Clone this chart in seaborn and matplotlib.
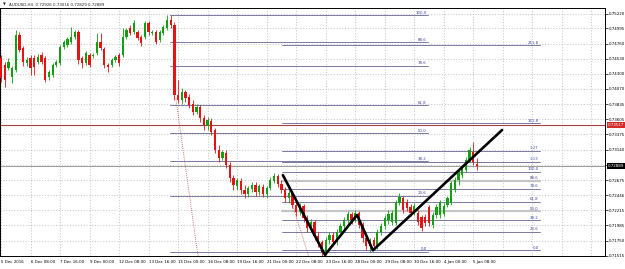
import numpy as np
import pandas as pd
import matplotlib
matplotlib.use("Agg")
import matplotlib.pyplot as plt
import matplotlib.transforms as mtransforms
import seaborn as sns

# ---------------- data ----------------
opens = [0.7454, 0.7443, 0.7439, 0.7425, 0.7436, 0.7489, 0.7470, 0.7447, 0.7454, 0.7454,
         0.7448, 0.7459, 0.7454, 0.7425, 0.7428, 0.7443, 0.7447, 0.7471, 0.7474, 0.7479,
         0.7486, 0.7494, 0.7454, 0.7447, 0.7459, 0.7457, 0.7462, 0.7479, 0.7468, 0.7443,
         0.7443, 0.7451, 0.7459, 0.7459, 0.7486, 0.7500, 0.7494, 0.7494, 0.7486, 0.7486,
         0.7508, 0.7492, 0.7494, 0.7482, 0.7492, 0.7500, 0.7512, 0.7505, 0.7398, 0.7390,
         0.7402, 0.7394, 0.7384, 0.7372, 0.7379, 0.7362, 0.7350, 0.7358, 0.7344, 0.7313,
         0.7301, 0.7309, 0.7291, 0.7271, 0.7258, 0.7266, 0.7252, 0.7246, 0.7254, 0.7260,
         0.7249, 0.7257, 0.7246, 0.7255, 0.7266, 0.7274, 0.7261, 0.7252, 0.7240, 0.7248,
         0.7229, 0.7219, 0.7228, 0.7210, 0.7194, 0.7203, 0.7182, 0.7173, 0.7157, 0.7176,
         0.7183, 0.7173, 0.7188, 0.7197, 0.7206, 0.7216, 0.7206, 0.7217, 0.7199, 0.7179,
         0.7167, 0.7176, 0.7167, 0.7188, 0.7197, 0.7206, 0.7203, 0.7202, 0.7232, 0.7240,
         0.7234, 0.7226, 0.7219, 0.7217, 0.7211, 0.7211, 0.7226, 0.7199, 0.7214, 0.7214,
         0.7216, 0.7229, 0.7232, 0.7252, 0.7268, 0.7275, 0.7283, 0.7298, 0.7310, 0.72926]
highs = [0.7459, 0.7448, 0.7454, 0.7442, 0.7497, 0.7494, 0.7473, 0.7456, 0.7459, 0.7459,
         0.7460, 0.7463, 0.7457, 0.7436, 0.7447, 0.7451, 0.7474, 0.7482, 0.7486, 0.7502,
         0.7497, 0.7497, 0.7457, 0.7465, 0.7462, 0.7462, 0.7492, 0.7492, 0.7471, 0.7447,
         0.7454, 0.7459, 0.7462, 0.7500, 0.7500, 0.7505, 0.7512, 0.7497, 0.7489, 0.7511,
         0.7511, 0.7497, 0.7497, 0.7497, 0.7505, 0.7520, 0.7520, 0.7509, 0.7421, 0.7408,
         0.7405, 0.7399, 0.7390, 0.7384, 0.7382, 0.7367, 0.7364, 0.7362, 0.7347, 0.7321,
         0.7313, 0.7313, 0.7295, 0.7275, 0.7271, 0.7271, 0.7260, 0.7258, 0.7264, 0.7264,
         0.7261, 0.7261, 0.7258, 0.7272, 0.7278, 0.7277, 0.7268, 0.7257, 0.7252, 0.7251,
         0.7234, 0.7232, 0.7231, 0.7214, 0.7208, 0.7206, 0.7188, 0.7176, 0.7180, 0.7188,
         0.7188, 0.7193, 0.7202, 0.7211, 0.7220, 0.7219, 0.7222, 0.7220, 0.7203, 0.7183,
         0.7179, 0.7180, 0.7193, 0.7202, 0.7214, 0.7222, 0.7222, 0.7237, 0.7248, 0.7243,
         0.7239, 0.7231, 0.7232, 0.7222, 0.7214, 0.7216, 0.7229, 0.7219, 0.7231, 0.7237,
         0.7232, 0.7243, 0.7266, 0.7272, 0.7283, 0.7291, 0.7303, 0.7318, 0.7326, 0.73016]
lows = [0.7417, 0.7410, 0.7436, 0.7416, 0.7433, 0.7463, 0.7442, 0.7442, 0.7428, 0.7428,
        0.7445, 0.7445, 0.7417, 0.7421, 0.7425, 0.7440, 0.7443, 0.7468, 0.7471, 0.7476,
        0.7483, 0.7445, 0.7439, 0.7443, 0.7440, 0.7454, 0.7459, 0.7466, 0.7439, 0.7433,
        0.7440, 0.7448, 0.7442, 0.7456, 0.7483, 0.7489, 0.7491, 0.7482, 0.7473, 0.7483,
        0.7489, 0.7489, 0.7476, 0.7479, 0.7489, 0.7497, 0.7500, 0.7390, 0.7385, 0.7384,
        0.7387, 0.7378, 0.7367, 0.7369, 0.7356, 0.7344, 0.7344, 0.7336, 0.7309, 0.7295,
        0.7298, 0.7286, 0.7264, 0.7252, 0.7252, 0.7246, 0.7240, 0.7242, 0.7249, 0.7243,
        0.7245, 0.7242, 0.7240, 0.7252, 0.7263, 0.7257, 0.7248, 0.7234, 0.7232, 0.7225,
        0.7213, 0.7214, 0.7203, 0.7188, 0.7188, 0.7176, 0.7165, 0.7151, 0.7153, 0.7170,
        0.7168, 0.7168, 0.7183, 0.7193, 0.7202, 0.7200, 0.7203, 0.7194, 0.7173, 0.7160,
        0.7157, 0.7160, 0.7162, 0.7183, 0.7193, 0.7200, 0.7199, 0.7199, 0.7229, 0.7217,
        0.7220, 0.7213, 0.7214, 0.7199, 0.7190, 0.7197, 0.7197, 0.7194, 0.7210, 0.7210,
        0.7213, 0.7226, 0.7229, 0.7249, 0.7260, 0.7271, 0.7280, 0.7295, 0.7291, 0.72829]
closes = [0.7424, 0.7421, 0.7448, 0.7439, 0.7489, 0.7466, 0.7448, 0.7451, 0.7439, 0.7440,
          0.7456, 0.7448, 0.7421, 0.7433, 0.7443, 0.7448, 0.7471, 0.7479, 0.7483, 0.7486,
          0.7494, 0.7451, 0.7447, 0.7462, 0.7443, 0.7459, 0.7479, 0.7470, 0.7443, 0.7440,
          0.7451, 0.7456, 0.7447, 0.7486, 0.7497, 0.7492, 0.7508, 0.7485, 0.7477, 0.7508,
          0.7494, 0.7494, 0.7479, 0.7494, 0.7502, 0.7512, 0.7505, 0.7398, 0.7390, 0.7402,
          0.7393, 0.7382, 0.7372, 0.7379, 0.7362, 0.7352, 0.7359, 0.7341, 0.7313, 0.7301,
          0.7310, 0.7291, 0.7271, 0.7260, 0.7268, 0.7252, 0.7246, 0.7255, 0.7260, 0.7249,
          0.7258, 0.7246, 0.7255, 0.7268, 0.7274, 0.7261, 0.7252, 0.7240, 0.7248, 0.7229,
          0.7219, 0.7229, 0.7210, 0.7194, 0.7203, 0.7182, 0.7173, 0.7157, 0.7176, 0.7183,
          0.7173, 0.7188, 0.7197, 0.7206, 0.7216, 0.7206, 0.7217, 0.7199, 0.7179, 0.7167,
          0.7176, 0.7167, 0.7188, 0.7197, 0.7210, 0.7216, 0.7217, 0.7232, 0.7242, 0.7222,
          0.7225, 0.7217, 0.7228, 0.7203, 0.7194, 0.7202, 0.7202, 0.7214, 0.7226, 0.7234,
          0.7228, 0.7240, 0.7263, 0.7268, 0.7278, 0.7287, 0.7298, 0.7313, 0.7295, 0.72889]

x_labels = ["5 Dec 2016", "6 Dec 08:00", "7 Dec 16:00", "9 Dec 00:00", "12 Dec 08:00",
            "13 Dec 16:00", "15 Dec 00:00", "16 Dec 08:00", "19 Dec 16:00", "21 Dec 00:00",
            "22 Dec 08:00", "23 Dec 16:00", "28 Dec 00:00", "29 Dec 08:00", "30 Dec 16:00",
            "4 Jan 00:00", "5 Jan 08:00"]
y_ticks = [0.71515, 0.71750, 0.71985, 0.72215, 0.72446, 0.72675, 0.72905, 0.73140,
           0.73375, 0.73605, 0.73835, 0.74070, 0.74300, 0.74530, 0.74760, 0.74995, 0.75220]

# AB=CD zigzag (bar index, price)
zz_bars = [76.4, 87.8, 96.5, 100.8, 135.8]
zz_prices = [0.7275, 0.7153, 0.7214, 0.7160, 0.7344]

# Fibonacci retracement (from 15 Dec high)
fib1_levels = [0.0, 23.6, 38.2, 50.0, 61.8, 78.6, 88.6, 100.0]
fib1_labels = ["0.0", "23.6", "38.2", "50.0", "61.8", "78.6", "88.6", "100.0"]
fib1_low, fib1_high = 0.7158, 0.7520
fib1_start, fib1_end = 45.8, 115.7

# Fibonacci expansion (pattern)
fib2_levels = [0.0, 23.6, 38.2, 50.0, 61.8, 78.6, 88.6, 100.0, 113.0, 127.0, 161.8, 261.8]
fib2_labels = ["0.0", "23.6", "38.2", "50.0", "61.8", "78.6", "88.6", "100.0",
               "1.13", "1.27", "161.8", "261.8"]
fib2_low, fib2_high = 0.7160, 0.7280
fib2_start, fib2_end = 76.2, 146.0

# dotted trend lines of the fib tools
trend1_bars, trend1_prices = [47.4, 53.4], [0.7392, 0.7151]
trend2_bars, trend2_prices = [78.6, 83.4], [0.7237, 0.7151]

red_level = 0.73517
symbol_text = "AUDUSD,H4  0.72926 0.73016 0.72829 0.72889"

# ---------------- drawing ----------------
sns.set_style("white")
plt.rcParams["font.family"] = ["DejaVu Sans"]

fig = plt.figure(figsize=(6.25, 2.69), dpi=100)
ax = fig.add_axes([0.0, 1 - 256 / 269, 605 / 625, 248 / 269])

o = np.array(opens); h = np.array(highs); l = np.array(lows); c = np.array(closes)
idx = np.arange(len(c))
ax.set_xlim(-0.27, 163.7)
ax.set_ylim(0.71513, 0.75307)

# grid
xt = np.arange(0, 164, 8)
ax.set_xticks(xt)
ax.set_xticklabels(x_labels + [""] * (len(xt) - len(x_labels)), fontsize=2.9,
                   ha="left")
ax.set_yticks(y_ticks)
ax.set_yticklabels([("" if abs(v - 0.72905) < 1e-6 else f"{v:.5f}") for v in y_ticks],
                   fontsize=2.9)
ax.yaxis.tick_right()
ax.tick_params(axis="both", length=2, width=0.5, pad=1, colors="black")
ax.grid(True, linestyle=(0, (1.5, 2.5)), color="#b0b0b0", linewidth=0.5)
ax.set_axisbelow(True)
for s in ax.spines.values():
    s.set_color("black")
    s.set_linewidth(0.7)

# full-width horizontal lines
ax.axhline(red_level, color="#a84040", linewidth=0.8, zorder=2)
ax.axhline(c[-1], color="#8c8c8c", linewidth=0.6, zorder=2)

fib_line = "#70709c"
fib_text = "#3a4aa0"
rng1 = fib1_high - fib1_low
for lv, lab in zip(fib1_levels, fib1_labels):
    p = fib1_low + lv / 100 * rng1
    ax.plot([fib1_start, fib1_end], [p, p], color=fib_line, lw=0.65, zorder=2)
    ax.text(fib1_end - 0.3, p + 0.00006, lab, fontsize=2.8, color=fib_text,
            ha="right", va="bottom", zorder=3)
rng2 = fib2_high - fib2_low
for lv, lab in zip(fib2_levels, fib2_labels):
    p = fib2_low + lv / 100 * rng2
    light = lv in (50.0, 88.6)
    ax.plot([fib2_start, fib2_end], [p, p], color="#c4c4c4" if light else fib_line,
            lw=1.6 if light else 0.65, zorder=2)
    ax.text(fib2_end - 0.3, p + 0.00006, lab, fontsize=2.8, color=fib_text,
            ha="right", va="bottom", zorder=3)

ax.plot(trend1_bars, trend1_prices, linestyle=(0, (1, 1.5)), color="#c04848", lw=0.6, zorder=2)
ax.plot(trend2_bars, trend2_prices, linestyle=(0, (1, 1.5)), color="#c04848", lw=0.6, zorder=2)

# candles
up = c >= o
cols = np.where(up, "#12a012", "#e41414")
ax.vlines(idx, l, h, colors=cols, linewidth=0.6, zorder=4)
body = np.maximum(np.abs(c - o), 0.00005)
ax.bar(idx, body, bottom=np.minimum(o, c), width=0.62, color=cols, linewidth=0, zorder=5)

# zigzag via seaborn
zz = pd.DataFrame({"bar": zz_bars, "price": zz_prices})
sns.lineplot(data=zz, x="bar", y="price", sort=False, estimator=None, color="black",
             linewidth=1.9, ax=ax, zorder=6)
ax.set_xlabel("")
ax.set_ylabel("")

# price labels on axis
trans = mtransforms.blended_transform_factory(ax.transAxes, ax.transData)
ax.text(1.004, red_level, f"{red_level:.5f}", transform=trans, fontsize=2.9, color="white",
        va="center", ha="left", bbox=dict(facecolor="#d42a2a", edgecolor="none", pad=0.6),
        clip_on=False, zorder=7)
ax.text(1.004, c[-1], f"{c[-1]:.5f}", transform=trans, fontsize=2.9, color="white",
        va="center", ha="left", bbox=dict(facecolor="black", edgecolor="none", pad=0.6),
        clip_on=False, zorder=7)

fig.text(3 / 625, 1 - 5 / 269, "\u25bc", fontsize=2.6, va="center", ha="left")
fig.text(9 / 625, 1 - 5 / 269, symbol_text, fontsize=2.9, va="center", ha="left")

fig.savefig("out.png", dpi=100, facecolor="white")
